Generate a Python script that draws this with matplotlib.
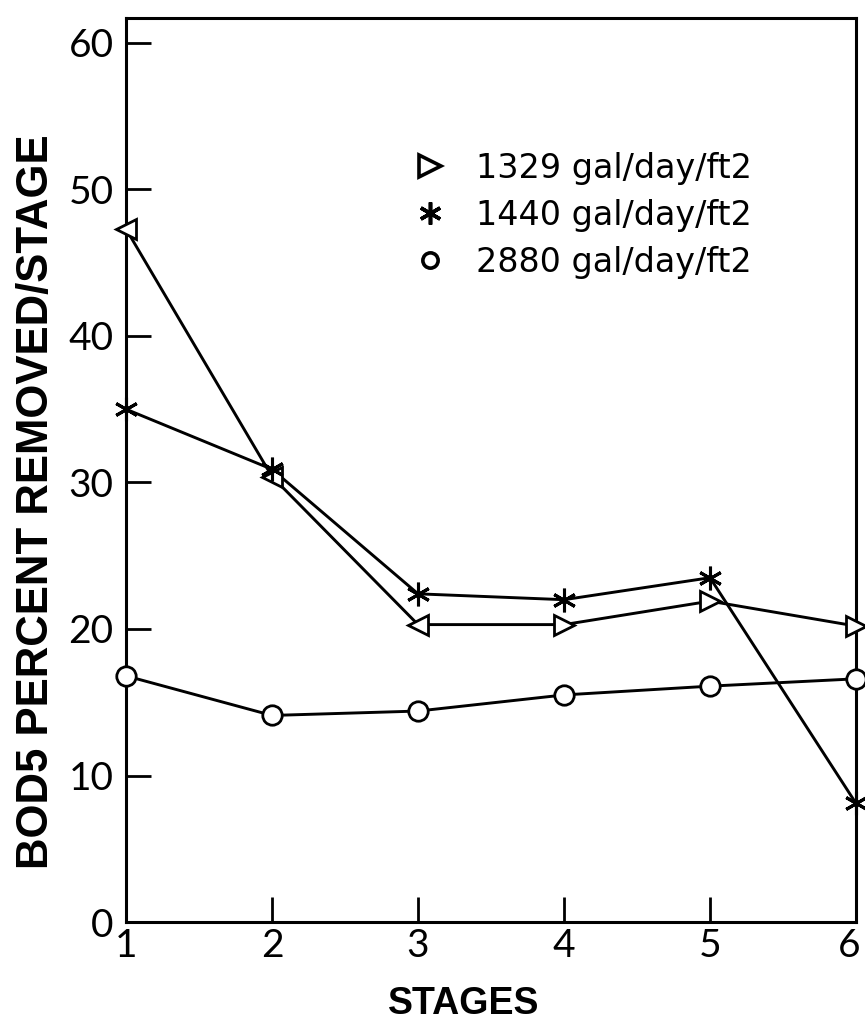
import matplotlib
matplotlib.use("Agg")
import matplotlib.pyplot as plt
import matplotlib.transforms as mtransforms
from matplotlib.lines import Line2D

# BOD5 removal per stage for three hydraulic loadings
stages = [1, 2, 3, 4, 5, 6]
load_1329 = [47.3, 30.4, 20.3, 20.3, 21.9, 20.2]
load_1440 = [35.0, 30.9, 22.4, 22.0, 23.5, 8.1]
load_2880 = [16.8, 14.1, 14.4, 15.5, 16.1, 16.6]
labels = ["1329 gal/day/ft2", "1440 gal/day/ft2", "2880 gal/day/ft2"]

yticks = [0, 10, 20, 30, 40, 50, 60]
tick_font = {"family": ["Lato", "DejaVu Sans"], "weight": "normal", "size": 28}
label_font = {"family": ["Liberation Sans", "DejaVu Sans"], "weight": "bold"}

fig = plt.figure(figsize=(8.65, 10.22), dpi=100)
ax = fig.add_axes([0.1457, 0.0978, 0.8439, 0.8846])

lw = 2.1
ax.plot(stages, load_1329, color="black", lw=lw, zorder=2)
ax.plot(stages, load_1440, color="black", lw=lw, zorder=2)
ax.plot(stages, load_2880, color="black", lw=lw, zorder=2)

# first points were drawn pointing left, the rest pointing right
tri_dirs = ["<", "<", "<", ">", ">", ">"]
for x, y, m in zip(stages, load_1329, tri_dirs):
    ax.plot(x, y, marker=m, ms=15, mfc="white", mec="black", mew=2, zorder=3, clip_on=False)
ax.plot(stages, load_1440, ls="none", marker=(6, 2, 0), ms=17, mec="black", mew=2.2,
        zorder=3, clip_on=False)
ax.plot(stages, load_2880, ls="none", marker="o", ms=14, mfc="white", mec="black", mew=2,
        zorder=3, clip_on=False)

ax.set_xlim(1, 6)
ax.set_ylim(0, 61.7)
ax.set_xticks(stages)
ax.set_yticks(yticks)
ax.set_xticklabels([str(s) for s in stages], fontdict=tick_font)
ax.set_yticklabels([str(v) for v in yticks], fontdict=tick_font)
ax.tick_params(axis="both", direction="in", length=18, width=2, colors="black")
ax.tick_params(axis="x", pad=4)
ax.tick_params(axis="y", pad=9)
for s in ax.spines.values():
    s.set_linewidth(2.2)

# pull the last stage label back inside the figure
last = ax.get_xticklabels()[-1]
last.set_transform(last.get_transform() + mtransforms.ScaledTranslation(-7 / 100, 0, fig.dpi_scale_trans))

ax.set_xlabel("STAGES", fontdict=label_font, fontsize=27)
ax.xaxis.set_label_coords(0.462, -0.071)
ax.set_ylabel("BOD5 PERCENT REMOVED/STAGE", fontdict=label_font, fontsize=31.5)
ax.yaxis.set_label_coords(-0.094, 0.465)

handles = [
    Line2D([], [], ls="none", marker=">", ms=16, mfc="white", mec="black", mew=2.6),
    Line2D([], [], ls="none", marker=(6, 2, 0), ms=16, mec="black", mew=2.6),
    Line2D([], [], ls="none", marker="o", ms=11, mfc="white", mec="black", mew=2.6),
]
leg = ax.legend(handles, labels, loc="upper left", bbox_to_anchor=(0.352, 0.885),
                frameon=False, handlelength=1.0, handletextpad=0.9, labelspacing=0.42,
                prop={"family": ["DejaVu Sans"], "size": 24})

plt.savefig("out.png", dpi=100)
plt.close()
